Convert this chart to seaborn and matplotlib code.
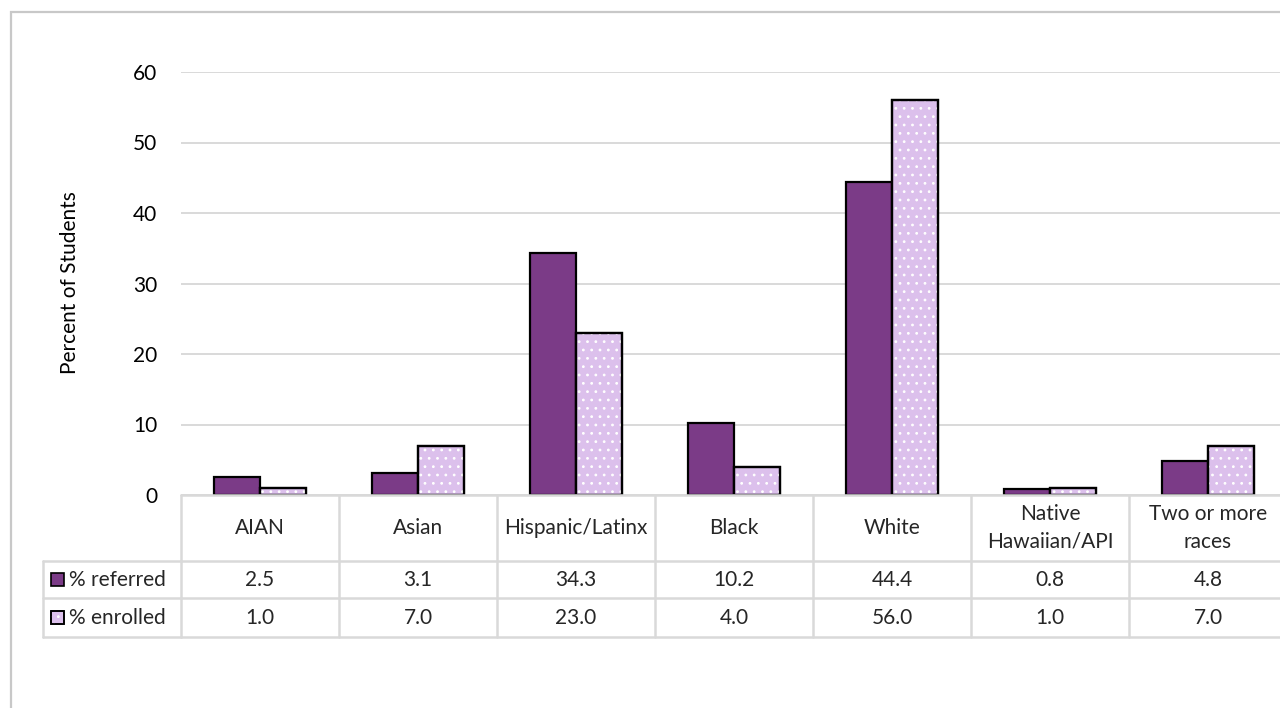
import matplotlib
matplotlib.use("Agg")
import matplotlib.pyplot as plt
from matplotlib.patches import Rectangle
from matplotlib.lines import Line2D
from matplotlib import transforms
import seaborn as sns
import pandas as pd

# ---- data ----
groups = ["AIAN", "Asian", "Hispanic/Latinx", "Black", "White",
          "Native\nHawaiian/API", "Two or more\nraces"]
referred = [2.5, 3.1, 34.3, 10.2, 44.4, 0.8, 4.8]
enrolled = [1.0, 7.0, 23.0, 4.0, 56.0, 1.0, 7.0]
series_names = ["% referred", "% enrolled"]
y_ticks = [0, 10, 20, 30, 40, 50, 60]

# ---- style ----
C_REF = "#7B3B87"
C_ENR = "#DCC0EC"
GRID = "#D9D9D9"
FONT = "Lato"
FS = 15

sns.set_theme(style="white")
plt.rcParams["font.family"] = [FONT, "DejaVu Sans"]
plt.rcParams["hatch.linewidth"] = 0.8

W, H = 1280, 708
fig = plt.figure(figsize=(W / 100, H / 100), dpi=100)
fig.patch.set_facecolor("white")


def fx(px):
    return px / W


def fy(py):
    return 1 - py / H


# plot area
ax_left, ax_right, ax_top, ax_bottom = 181, 1287, 72, 495
ax = fig.add_axes([fx(ax_left), fy(ax_bottom), fx(ax_right - ax_left),
                   (ax_bottom - ax_top) / H])

df = pd.DataFrame({
    "group": groups * 2,
    "pct": referred + enrolled,
    "series": [series_names[0]] * len(groups) + [series_names[1]] * len(groups),
})

sns.barplot(data=df, x="group", y="pct", hue="series", order=groups,
            hue_order=series_names, palette=[C_REF, C_ENR], saturation=1,
            width=0.58, edgecolor="black", linewidth=1.6, legend=False,
            errorbar=None, ax=ax, zorder=3)

# dotted fill on the enrolled bars: white dots, then the black outline on top
for b in ax.containers[1]:
    ax.add_patch(Rectangle((b.get_x(), b.get_y()), b.get_width(), b.get_height(),
                           fill=False, hatch="..", edgecolor="white",
                           linewidth=0, zorder=3.1))
    ax.add_patch(Rectangle((b.get_x(), b.get_y()), b.get_width(), b.get_height(),
                           fill=False, edgecolor="black", linewidth=1.6,
                           zorder=3.2))

ax.set_xlim(-0.5, len(groups) - 0.5)
ax.set_ylim(0, 60)
ax.set_yticks(y_ticks)
ax.set_yticklabels([str(t) for t in y_ticks], fontsize=FS, color="black")
ax.tick_params(axis="y", length=0, pad=17)
ax.set_xticks([])
ax.set_xlabel("")
ax.set_ylabel("")
ax.yaxis.grid(True, color=GRID, linewidth=1.4, zorder=0)
ax.set_axisbelow(True)
for s in ax.spines.values():
    s.set_visible(False)

fig.text(fx(70), fy(283), "Percent of Students", rotation=90,
         ha="center", va="center", fontsize=FS, color="black")

# ---- data table under the plot ----
xt = transforms.blended_transform_factory(ax.transData, fig.transFigure)
y_head_top, y_head_bot, y_row1_bot, y_row2_bot = 495, 561, 598, 637
x_first, x_last = -0.5, len(groups) - 0.5
lkw = dict(color=GRID, linewidth=1.8, clip_on=False, zorder=1)

# horizontal rules
fig.add_artist(Line2D([x_first, x_last], [fy(y_head_top)] * 2, transform=xt, **lkw))
for yy in (y_head_bot, y_row1_bot, y_row2_bot):
    fig.add_artist(Line2D([fx(43), fx(ax_left)], [fy(yy)] * 2,
                          transform=fig.transFigure, **lkw))
    fig.add_artist(Line2D([x_first, x_last], [fy(yy)] * 2, transform=xt, **lkw))
# vertical rules
for i in range(len(groups) + 1):
    xb = i - 0.5
    fig.add_artist(Line2D([xb, xb], [fy(y_head_top), fy(y_row2_bot)],
                          transform=xt, **lkw))
fig.add_artist(Line2D([fx(43), fx(43)], [fy(y_head_bot), fy(y_row2_bot)],
                      transform=fig.transFigure, **lkw))

# header and values
for i, g in enumerate(groups):
    fig.text(i, fy((y_head_top + y_head_bot) / 2), g, transform=xt,
             ha="center", va="center", fontsize=FS, linespacing=1.45)
    fig.text(i, fy((y_head_bot + y_row1_bot) / 2), f"{referred[i]:.1f}",
             transform=xt, ha="center", va="center", fontsize=FS)
    fig.text(i, fy((y_row1_bot + y_row2_bot) / 2), f"{enrolled[i]:.1f}",
             transform=xt, ha="center", va="center", fontsize=FS)

# row labels with legend keys
rows = [((y_head_bot + y_row1_bot) / 2, C_REF, False),
        ((y_row1_bot + y_row2_bot) / 2, C_ENR, True)]
for (yc, col, dotted), name in zip(rows, series_names):
    k = 13
    x0, y0 = fx(51), fy(yc + k / 2)
    fig.add_artist(Rectangle((x0, y0), k / W, k / H, transform=fig.transFigure,
                             facecolor=col, edgecolor="black", linewidth=1.2))
    if dotted:
        fig.add_artist(Rectangle((x0, y0), k / W, k / H, transform=fig.transFigure,
                                 fill=False, hatch="..", edgecolor="white",
                                 linewidth=0))
        fig.add_artist(Rectangle((x0, y0), k / W, k / H, transform=fig.transFigure,
                                 fill=False, edgecolor="black", linewidth=1.2))
    fig.text(fx(69), fy(yc), name, ha="left", va="center", fontsize=FS)

# outer chart frame
fig.add_artist(Rectangle((fx(11), fy(730)), fx(1300), (730 - 12) / H,
                         transform=fig.transFigure, fill=False,
                         edgecolor="#C8C8C8", linewidth=1.6, clip_on=False))

fig.savefig("out.png", dpi=100, facecolor="white")
